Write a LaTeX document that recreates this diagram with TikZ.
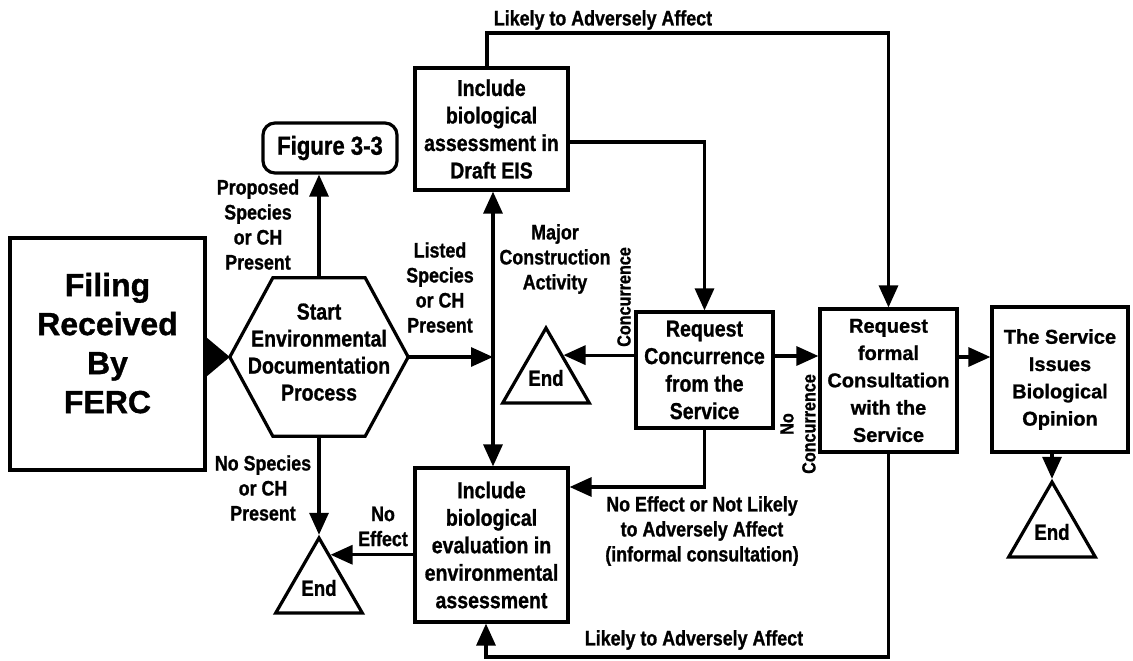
\documentclass[tikz,border=0pt]{standalone}
\usepackage{fontspec}
\setmainfont{Liberation Sans}[FakeStretch=0.85, BoldFeatures={FakeBold=1}]
\newfontfamily\widefont{Liberation Sans}[BoldFeatures={FakeBold=1}]
\usetikzlibrary{arrows.meta,shapes.geometric,calc}
\begin{document}
\begin{tikzpicture}[x=1pt,y=-1pt,
  box/.style={draw, line width=3.2pt, align=center, inner sep=0pt, font=\bfseries\fontsize{23}{27.5}\selectfont},
  wbox/.style={box, font=\widefont\bfseries\fontsize{20}{27.3}\selectfont},
  endtri/.style={draw, line width=3.2pt, regular polygon, regular polygon sides=3, minimum size=100pt, inner sep=0pt, font=\bfseries\fontsize{22}{26}\selectfont},
  lbl/.style={align=center, inner sep=0pt, font=\bfseries\fontsize{21}{25}\selectfont},
  arr/.style={line width=3.2pt, -{Triangle[length=22pt,width=19pt]}},
  arrs/.style={line width=3.2pt, {Triangle[length=22pt,width=19pt]}-{Triangle[length=22pt,width=19pt]}}]
\useasboundingbox (0,0) rectangle (1133,661);
\node[box, minimum width=195pt, minimum height=232pt, text depth=22pt, font=\widefont\bfseries\fontsize{32}{39}\selectfont] (filing) at (107.5,354) {Filing\\Received\\By\\FERC};
\node[align=center, inner sep=0pt, minimum width=178pt, minimum height=158pt, text depth=10pt, font=\bfseries\fontsize{23}{27}\selectfont] (start) at (319,357) {Start\\Environmental\\Documentation\\Process};
\draw[line width=3.2pt] (start.west) -- ([xshift=43pt]start.north west) -- ([xshift=-43pt]start.north east) -- (start.east) -- ([xshift=-43pt]start.south east) -- ([xshift=43pt]start.south west) -- cycle;
\node[box, rounded corners=12pt, minimum width=134pt, minimum height=50pt, font=\bfseries\fontsize{26}{30}\selectfont] (fig) at (330,148) {Figure 3-3};
\node[box, minimum width=153pt, minimum height=122pt] (bioA) at (491.5,129) {Include\\biological\\assessment in\\Draft EIS};
\node[box, minimum width=153pt, minimum height=154pt] (bioE) at (491.5,545) {Include\\biological\\evaluation in\\environmental\\assessment};
\node[box, minimum width=137pt, minimum height=116pt] (reqC) at (704.5,370) {Request\\Concurrence\\from the\\Service};
\node[wbox, minimum width=137pt, minimum height=143pt] (reqF) at (888.5,380.5) {Request\\formal\\Consultation\\with the\\Service};
\node[wbox, minimum width=136pt, minimum height=145pt] (opin) at (1060,379.5) {The Service\\Issues\\Biological\\Opinion};
\node[endtri] (end1) at (319,588) {End};
\node[endtri] (end2) at (546,378) {End};
\node[endtri] (end3) at (1052,532) {End};
\node[lbl] (lblProp) at (258,224.5) {Proposed\\Species\\or CH\\Present};
\node[lbl] (lblList) at (440,287.5) {Listed\\Species\\or CH\\Present};
\node[lbl] (lblMajor) at (555,259) {Major\\Construction\\Activity};
\node[lbl, rotate=90, font=\bfseries\fontsize{19}{22}\selectfont] (lblConc) at (624,297) {Concurrence};
\node[lbl] (lblNoSp) at (263,488) {No Species\\or CH\\Present};
\node[lbl] (lblNoEff) at (383,526.5) {No\\Effect};
\node[lbl] (lblNoLik) at (702,531) {No Effect or Not Likely\\to Adversely Affect\\(informal consultation)};
\node[lbl, rotate=90, font=\bfseries\fontsize{19}{22}\selectfont] (lblNoConc) at (798,424) {No\\Concurrence};
\node[lbl] (lblTop) at (603,20) {Likely to Adversely Affect};
\node[lbl] (lblBot) at (694,640) {Likely to Adversely Affect};
\coordinate (jn) at (493,357);
\coordinate (topL) at (487,33);
\coordinate (bot) at (0,657);
\coordinate (cf) at ([yshift=14pt]reqC.east);
\coordinate (fo) at ([yshift=23.5pt]reqF.east);
\coordinate (e1in) at ($(end1.corner 1)!0.25!(end1.corner 3)$);
\coordinate (e2in) at ($(end2.corner 1)!0.38!(end2.corner 3)$);
\draw[line width=0pt, -{Triangle[length=25pt,width=42pt]}] (filing.east |- start.west) -- (start.west);
\draw[arr] (start.north) -- (start.north |- fig.south);
\draw[arr] (start.south) -- (end1.corner 1);
\draw[arr] (start.east) -- (jn);
\draw[arrs] (bioA.south -| jn) -- (bioE.north -| jn);
\draw[arr] (topL |- bioA.north) -- (topL) -| (reqF.north);
\draw[arr] ([yshift=-13pt]bioA.east) -| (reqC.north);
\draw[arr] (e2in -| reqC.west) -- (e2in);
\draw[arr] (reqC.south) |- ([yshift=58pt]bioE.east);
\draw[arr] (e1in -| bioE.west) -- (e1in);
\draw[arr] (cf) -- (cf -| reqF.west);
\draw[arr] (fo) -- (fo -| opin.west);
\draw[arr] (reqF.south) -- (reqF.south |- bot) -| ([xshift=-5.5pt]bioE.south);
\draw[arr] (end3.corner 1 |- opin.south) -- (end3.corner 1);
\end{tikzpicture}
\end{document}
